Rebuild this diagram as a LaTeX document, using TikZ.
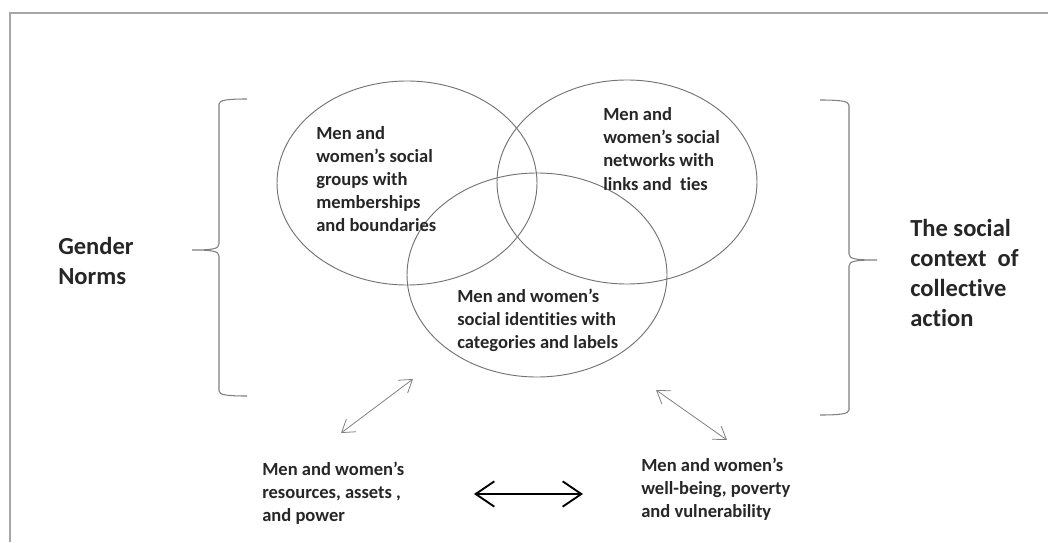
\documentclass[tikz,border=0pt]{standalone}
\usepackage{fontspec}
\setmainfont{Carlito}[Ligatures=NoCommon]
\usetikzlibrary{arrows.meta, shapes.geometric}

\begin{document}
\begin{tikzpicture}[x=0.75pt, y=-0.75pt,
    every node/.style={font=\bfseries\fontsize{13.9}{17.3}\selectfont, align=left, inner sep=0pt, text=black!85},
    big/.style={font=\bfseries\fontsize{18.4}{22.5}\selectfont},
    venn/.style={draw=black!55, line width=0.7pt, ellipse, minimum width=195pt, minimum height=153pt},
    brace/.style={draw=black!50, line width=0.8pt},
    frame/.style={draw=black!35, line width=1.5pt},
    link/.style={draw=black!50, line width=0.6pt, {Straight Barb[length=9pt,width=12pt]}-{Straight Barb[length=9pt,width=12pt]}},
    tradeoff/.style={draw=black, line width=1.4pt, {Straight Barb[length=14pt,width=19pt]}-{Straight Barb[length=14pt,width=19pt]}}]
    \useasboundingbox (0,0) rectangle (1048,542);
    % page frame
    \draw[frame] (10,542) -- (10,13) -- (1048,13);

    % three overlapping circles
    \node[venn] (groups) at (407,183) {};
    \node[venn] (networks) at (627,182) {};
    \node[venn] (identities) at (537,275) {};
    \node[anchor=west] (groupstxt) at (316,179) {Men and\\women’s social\\groups with\\memberships\\and boundaries};
    \node[anchor=west] (networkstxt) at (603,149) {Men and\\women’s social\\networks with\\links and~ ties};
    \node[anchor=west] (identitiestxt) at (457,320) {Men and women’s\\social identities with\\categories and labels};

    % braces and side labels
    \draw[brace] (247,99) .. controls (228,99) and (219,100) .. (219,104) -- (219,244)
        .. controls (219,249) and (212,250) .. (192,250)
        .. controls (212,250) and (219,251) .. (219,256) -- (219,391)
        .. controls (219,395) and (228,396) .. (247,396);
    \draw[brace] (820,100) .. controls (839,100) and (849,101) .. (849,105) -- (849,254)
        .. controls (849,259) and (856,260) .. (877,260)
        .. controls (856,260) and (849,261) .. (849,266) -- (849,410)
        .. controls (849,414) and (839,415) .. (820,415);
    \node[big, anchor=west] (norms) at (58,261) {Gender\\Norms};
    \node[big, anchor=west] (context) at (910,273) {The social\\context~ of\\collective\\action};

    % outcomes below
    \node[anchor=west] (resources) at (262,493) {Men and women’s\\resources, assets ,\\and power};
    \node[anchor=west] (wellbeing) at (641,489) {Men and women’s\\well-being, poverty\\and vulnerability};
    \coordinate (l1) at (341,433);
    \coordinate (l2) at (413,379);
    \coordinate (r1) at (656,390);
    \coordinate (r2) at (727,440);
    \coordinate (h1) at (474,494);
    \coordinate (h2) at (583,494);
    \draw[link] (l1) -- (l2);
    \draw[link] (r1) -- (r2);
    \draw[tradeoff] (h1) -- (h2);
\end{tikzpicture}
\end{document}
